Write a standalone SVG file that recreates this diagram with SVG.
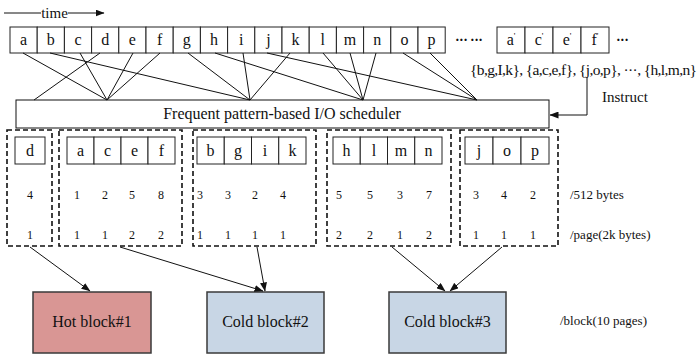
<svg xmlns="http://www.w3.org/2000/svg" width="700" height="356" viewBox="0 0 700 356">
  <style>
    text { font-family: "Liberation Serif", "Times New Roman", serif; fill: #111; }
    .cell { fill: #fff; stroke: #222; stroke-width: 1; }
    .lbl { font-size: 16px; text-anchor: middle; }
    .num { font-size: 12px; text-anchor: middle; }
    .note { font-size: 13px; }
    .grp { fill: none; stroke: #111; stroke-width: 1.6; stroke-dasharray: 5 3; }
    .blk { stroke: #3a3a3a; stroke-width: 1.5; }
    .blkTxt { font-size: 16px; text-anchor: middle; }
    .conn line, .conn path { stroke: #111; stroke-width: 1; fill: none; }
    .arr { stroke: #111; stroke-width: 1.1; fill: none; marker-end: url(#head); }
  </style>
  <defs>
    <marker id="head" markerWidth="9" markerHeight="7" refX="8.5" refY="3.5" orient="auto" markerUnits="userSpaceOnUse">
      <path d="M0,0 L9,3.5 L0,7 Z" fill="#111"/>
    </marker>
  </defs>

  <rect width="700" height="356" fill="#fff"/>

  <!-- time axis -->
  <g id="time">
    <line x1="4" y1="13" x2="41" y2="13" stroke="#111" stroke-width="1"/>
    <text x="54.5" y="17.5" font-size="15" text-anchor="middle">time</text>
    <line x1="68" y1="13" x2="104" y2="13" stroke="#111" stroke-width="1" marker-end="url(#head)"/>
  </g>

  <!-- request stream -->
  <g id="stream">
    <rect class="cell" x="10" y="27" width="27.2" height="26"/>
    <rect class="cell" x="37.2" y="27" width="27.2" height="26"/>
    <rect class="cell" x="64.4" y="27" width="27.2" height="26"/>
    <rect class="cell" x="91.6" y="27" width="27.2" height="26"/>
    <rect class="cell" x="118.8" y="27" width="27.2" height="26"/>
    <rect class="cell" x="146" y="27" width="27.2" height="26"/>
    <rect class="cell" x="173.2" y="27" width="27.2" height="26"/>
    <rect class="cell" x="200.4" y="27" width="27.2" height="26"/>
    <rect class="cell" x="227.6" y="27" width="27.2" height="26"/>
    <rect class="cell" x="254.8" y="27" width="27.2" height="26"/>
    <rect class="cell" x="282" y="27" width="27.2" height="26"/>
    <rect class="cell" x="309.2" y="27" width="27.2" height="26"/>
    <rect class="cell" x="336.4" y="27" width="27.2" height="26"/>
    <rect class="cell" x="363.6" y="27" width="27.2" height="26"/>
    <rect class="cell" x="390.8" y="27" width="27.2" height="26"/>
    <rect class="cell" x="418" y="27" width="27.2" height="26"/>
    <text class="lbl" x="23.6" y="45">a</text>
    <text class="lbl" x="50.8" y="45">b</text>
    <text class="lbl" x="78" y="45">c</text>
    <text class="lbl" x="105.2" y="45">d</text>
    <text class="lbl" x="132.4" y="45">e</text>
    <text class="lbl" x="159.6" y="45">f</text>
    <text class="lbl" x="186.8" y="45">g</text>
    <text class="lbl" x="214" y="45">h</text>
    <text class="lbl" x="241.2" y="45">i</text>
    <text class="lbl" x="268.4" y="45">j</text>
    <text class="lbl" x="295.6" y="45">k</text>
    <text class="lbl" x="322.8" y="45">l</text>
    <text class="lbl" x="350" y="45">m</text>
    <text class="lbl" x="377.2" y="45">n</text>
    <text class="lbl" x="404.4" y="45">o</text>
    <text class="lbl" x="431.6" y="45">p</text>
    <text x="455" y="45" font-size="14" font-weight="bold" letter-spacing="-0.6">··· ···</text>
  </g>

  <g id="stream2">
    <rect class="cell" x="497" y="27" width="28" height="26"/>
    <rect class="cell" x="525" y="27" width="28" height="26"/>
    <rect class="cell" x="553" y="27" width="28" height="26"/>
    <rect class="cell" x="581" y="27" width="28" height="26"/>
    <text class="lbl" x="511" y="45">a<tspan font-size="9" dy="-6">'</tspan></text>
    <text class="lbl" x="539" y="45">c<tspan font-size="9" dy="-6">'</tspan></text>
    <text class="lbl" x="567" y="45">e<tspan font-size="9" dy="-6">'</tspan></text>
    <text class="lbl" x="595" y="45">f<tspan font-size="9" dy="-6">'</tspan></text>
    <text x="616" y="45" font-size="14" font-weight="bold" letter-spacing="-0.6">···</text>
  </g>

  <!-- mined frequent patterns -->
  <g id="patterns">
    <text x="470" y="75" font-size="15.5" textLength="227" lengthAdjust="spacing">{b,g,I,k}, {a,c,e,f}, {j,o,p}, ···, {h,l,m,n}</text>
    <text x="602" y="102" font-size="15">Instruct</text>
  </g>

  <!-- scheduler -->
  <g id="scheduler">
    <rect x="16" y="100" width="533" height="28" fill="#fff" stroke="#111" stroke-width="1"/>
    <text x="282" y="119" font-size="16" text-anchor="middle">Frequent pattern-based I/O scheduler</text>
  </g>

  <!-- request groups -->
  <g id="group-d">
    <rect class="grp" x="7" y="130" width="45" height="116"/>
    <rect class="cell" x="15" y="137" width="30" height="27"/>
    <text class="lbl" x="30" y="156">d</text>
    <text class="num" x="30" y="199">4</text>
    <text class="num" x="30" y="239">1</text>
  </g>
  <g id="group-acef">
    <rect class="grp" x="59" y="130" width="123" height="116"/>
    <rect class="cell" x="67" y="137" width="27" height="27"/>
    <rect class="cell" x="94" y="137" width="27" height="27"/>
    <rect class="cell" x="121" y="137" width="27" height="27"/>
    <rect class="cell" x="148" y="137" width="27" height="27"/>
    <text class="lbl" x="80.5" y="156">a</text>
    <text class="lbl" x="107.5" y="156">c</text>
    <text class="lbl" x="134.5" y="156">e</text>
    <text class="lbl" x="161.5" y="156">f</text>
    <text class="num" x="77" y="199">1</text>
    <text class="num" x="105" y="199">2</text>
    <text class="num" x="132" y="199">5</text>
    <text class="num" x="161" y="199">8</text>
    <text class="num" x="77" y="239">1</text>
    <text class="num" x="105" y="239">1</text>
    <text class="num" x="132" y="239">2</text>
    <text class="num" x="161" y="239">2</text>
  </g>
  <g id="group-bgik">
    <rect class="grp" x="193" y="130" width="123" height="116"/>
    <rect class="cell" x="197" y="137" width="27.25" height="27"/>
    <rect class="cell" x="224.25" y="137" width="27.25" height="27"/>
    <rect class="cell" x="251.5" y="137" width="27.25" height="27"/>
    <rect class="cell" x="278.75" y="137" width="27.25" height="27"/>
    <text class="lbl" x="210.6" y="156">b</text>
    <text class="lbl" x="237.9" y="156">g</text>
    <text class="lbl" x="265.1" y="156">i</text>
    <text class="lbl" x="292.4" y="156">k</text>
    <text class="num" x="200" y="199">3</text>
    <text class="num" x="228" y="199">3</text>
    <text class="num" x="255" y="199">2</text>
    <text class="num" x="283" y="199">4</text>
    <text class="num" x="200" y="239">1</text>
    <text class="num" x="228" y="239">1</text>
    <text class="num" x="255" y="239">1</text>
    <text class="num" x="283" y="239">1</text>
  </g>
  <g id="group-hlmn">
    <rect class="grp" x="327" y="130" width="124" height="116"/>
    <rect class="cell" x="333" y="137" width="27.25" height="27"/>
    <rect class="cell" x="360.25" y="137" width="27.25" height="27"/>
    <rect class="cell" x="387.5" y="137" width="27.25" height="27"/>
    <rect class="cell" x="414.75" y="137" width="27.25" height="27"/>
    <text class="lbl" x="346.6" y="156">h</text>
    <text class="lbl" x="373.9" y="156">l</text>
    <text class="lbl" x="401.1" y="156">m</text>
    <text class="lbl" x="428.4" y="156">n</text>
    <text class="num" x="339" y="199">5</text>
    <text class="num" x="370" y="199">5</text>
    <text class="num" x="400" y="199">3</text>
    <text class="num" x="429" y="199">7</text>
    <text class="num" x="339" y="239">2</text>
    <text class="num" x="370" y="239">2</text>
    <text class="num" x="400" y="239">1</text>
    <text class="num" x="429" y="239">2</text>
  </g>
  <g id="group-jop">
    <rect class="grp" x="460" y="130" width="98" height="116"/>
    <rect class="cell" x="465" y="137" width="28" height="27"/>
    <rect class="cell" x="493" y="137" width="28" height="27"/>
    <rect class="cell" x="521" y="137" width="28" height="27"/>
    <text class="lbl" x="479" y="156">j</text>
    <text class="lbl" x="507" y="156">o</text>
    <text class="lbl" x="535" y="156">p</text>
    <text class="num" x="476" y="199">3</text>
    <text class="num" x="504" y="199">4</text>
    <text class="num" x="533" y="199">2</text>
    <text class="num" x="476" y="239">1</text>
    <text class="num" x="504" y="239">1</text>
    <text class="num" x="533" y="239">1</text>
  </g>

  <g id="units">
    <text class="note" x="570" y="199">/512 bytes</text>
    <text class="note" x="570" y="239">/page(2k bytes)</text>
    <text class="note" x="560" y="325">/block(10 pages)</text>
  </g>

  <!-- flash blocks -->
  <g id="hot-block-1">
    <rect class="blk" x="33" y="292" width="118" height="61" fill="#d99694"/>
    <text class="blkTxt" x="92" y="327">Hot block#1</text>
  </g>
  <g id="cold-block-2">
    <rect class="blk" x="207" y="292" width="117" height="61" fill="#c8d6e5"/>
    <text class="blkTxt" x="265.5" y="327">Cold block#2</text>
  </g>
  <g id="cold-block-3">
    <rect class="blk" x="389" y="292" width="117" height="61" fill="#c8d6e5"/>
    <text class="blkTxt" x="447.5" y="327">Cold block#3</text>
  </g>

  <!-- connectors -->
  <g id="connectors" class="conn">
    <!-- stream to scheduler, one line per request -->
    <line x1="100" y1="53" x2="34" y2="100"/>
    <line x1="23" y1="53" x2="107" y2="100"/>
    <line x1="80" y1="53" x2="107" y2="100"/>
    <line x1="133" y1="53" x2="107" y2="100"/>
    <line x1="160" y1="53" x2="107" y2="100"/>
    <line x1="50" y1="53" x2="250" y2="100"/>
    <line x1="188" y1="53" x2="250" y2="100"/>
    <line x1="243" y1="53" x2="250" y2="100"/>
    <line x1="290" y1="53" x2="250" y2="100"/>
    <line x1="215" y1="53" x2="363" y2="100"/>
    <line x1="323" y1="53" x2="363" y2="100"/>
    <line x1="350" y1="53" x2="363" y2="100"/>
    <line x1="376" y1="53" x2="363" y2="100"/>
    <line x1="267" y1="53" x2="477" y2="100"/>
    <line x1="403" y1="53" x2="477" y2="100"/>
    <line x1="430" y1="53" x2="477" y2="100"/>
    <!-- instruct feedback -->
    <path class="arr" d="M587,77 V115 H550"/>
    <!-- groups to blocks -->
    <line class="arr" x1="30" y1="247" x2="90" y2="291"/>
    <line class="arr" x1="120" y1="247" x2="263" y2="291"/>
    <line class="arr" x1="257" y1="247" x2="265" y2="291"/>
    <line class="arr" x1="392" y1="247" x2="445" y2="291"/>
    <line class="arr" x1="502" y1="247" x2="450" y2="291"/>
  </g>
</svg>
